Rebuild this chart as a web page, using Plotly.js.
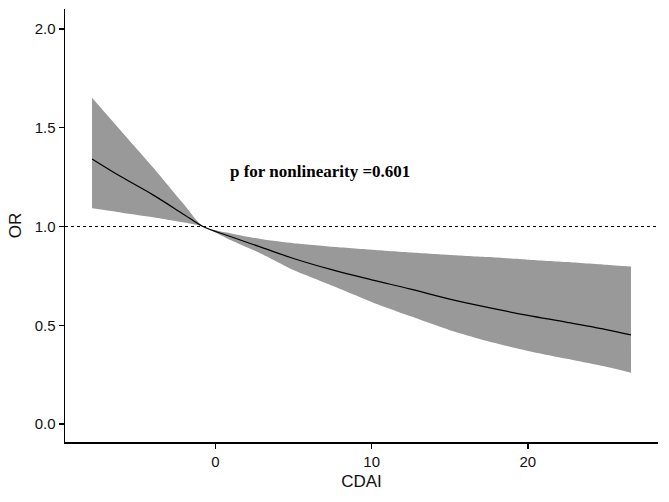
<!DOCTYPE html>
<html>
<head>
<meta charset="utf-8">
<script src="https://cdn.plot.ly/plotly-3.0.1.min.js"></script>
<style>html,body{margin:0;padding:0;background:#fff;}#chart{width:669px;height:502px;}</style>
</head>
<body>
<div id="chart"></div>
<script>
var cdai  = [-7.9, -6, -4, -2, -0.8, 1, 3, 5, 7.5, 10, 12.5, 15, 17.5, 20, 22.5, 25, 26.6];
var orFit = [1.342, 1.25, 1.16, 1.06, 1.0, 0.948, 0.893, 0.838, 0.78, 0.73, 0.683, 0.632, 0.589, 0.55, 0.515, 0.478, 0.451];
var orUpper = [1.652, 1.48, 1.30, 1.11, 1.0, 0.965, 0.935, 0.915, 0.897, 0.882, 0.868, 0.856, 0.845, 0.832, 0.82, 0.806, 0.797];
var orLower = [1.092, 1.07, 1.047, 1.02, 1.0, 0.93, 0.86, 0.78, 0.70, 0.618, 0.545, 0.475, 0.418, 0.37, 0.33, 0.29, 0.26];
var xTicks = [0, 10, 20];
var yTicks = [0, 0.5, 1, 1.5, 2];
var annText = "p for nonlinearity =0.601";

var traces = [
  {x: cdai, y: orLower, type: 'scatter', mode: 'lines',
   line: {width: 0, color: '#999999', shape: 'spline', smoothing: 0.6}, hoverinfo: 'skip', showlegend: false},
  {x: cdai, y: orUpper, type: 'scatter', mode: 'lines', fill: 'tonexty', fillcolor: '#999999',
   line: {width: 0, color: '#999999', shape: 'spline', smoothing: 0.6}, hoverinfo: 'skip', showlegend: false},
  {x: cdai, y: orFit, type: 'scatter', mode: 'lines', line: {color: '#000', width: 1.2, shape: 'spline'}, showlegend: false}
];

var axisCommon = {
  showgrid: false, zeroline: false, showline: true, linecolor: '#000', linewidth: 1.5,
  ticks: 'outside', ticklen: 5, tickwidth: 1.3, tickcolor: '#000',
  tickfont: {family: 'Liberation Sans, Arial, sans-serif', size: 15, color: '#111'},
  automargin: false
};

var layout = {
  width: 669, height: 502,
  margin: {l: 65, r: 11, t: 9, b: 60},
  paper_bgcolor: '#fff', plot_bgcolor: '#fff',
  showlegend: false,
  xaxis: Object.assign({}, axisCommon, {
    range: [-9.63, 28.33], tickmode: 'array', tickvals: xTicks,
    title: {text: 'CDAI', font: {family: 'Liberation Sans, Arial, sans-serif', size: 17, color: '#111'}, standoff: 6}
  }),
  yaxis: Object.assign({}, axisCommon, {
    range: [-0.091, 2.101], tickmode: 'array', tickvals: yTicks, tickformat: '.1f',
    title: {text: 'OR', font: {family: 'Liberation Sans, Arial, sans-serif', size: 17, color: '#111'}, standoff: 8}
  }),
  shapes: [
    {type: 'line', xref: 'paper', x0: 0, x1: 1, yref: 'y', y0: 1, y1: 1,
     line: {color: '#000', width: 1, dash: 'dot'}}
  ],
  annotations: [
    {x: 6.69, y: 1.277, xref: 'x', yref: 'y', text: '<b>' + annText + '</b>', showarrow: false,
     font: {family: 'Liberation Serif, Times New Roman, serif', size: 17, color: '#000'}}
  ]
};

Plotly.newPlot('chart', traces, layout, {displayModeBar: false, staticPlot: true});
</script>
</body>
</html>
